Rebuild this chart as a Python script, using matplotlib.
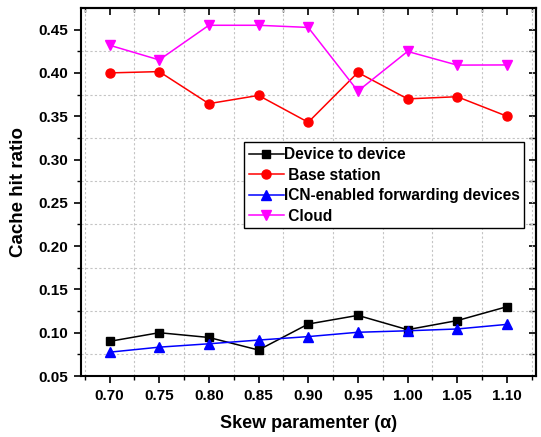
import matplotlib
matplotlib.use("Agg")
import matplotlib.pyplot as plt
from matplotlib.ticker import MultipleLocator, FormatStrFormatter

plt.rcParams['font.family'] = ['Liberation Sans', 'DejaVu Sans']
plt.rcParams['font.weight'] = 'bold'

alpha = [0.70, 0.75, 0.80, 0.85, 0.90, 0.95, 1.00, 1.05, 1.10]
d2d = [0.090, 0.100, 0.0945, 0.080, 0.110, 0.120, 0.1035, 0.114, 0.130]
base = [0.400, 0.4015, 0.3645, 0.374, 0.343, 0.4005, 0.370, 0.3725, 0.350]
icn = [0.0775, 0.0833, 0.0872, 0.0915, 0.0955, 0.1005, 0.1022, 0.1043, 0.1096]
cloud = [0.432, 0.415, 0.455, 0.455, 0.4525, 0.379, 0.4248, 0.409, 0.4092]

W, H = 541, 437
L, R, T, B = 80.7, 536.2, 8.3, 376
fig = plt.figure(figsize=(W/100, H/100), dpi=100)
ax = fig.add_axes([L/W, 1-B/H, (R-L)/W, (B-T)/H])

ax.plot(alpha, d2d, color='black', marker='s', ms=6, lw=1.1, label='Device to device')
ax.plot(alpha, base, color='red', marker='o', ms=6.5, lw=1.1, label=' Base station')
ax.plot(alpha, icn, color='blue', marker='^', ms=6.5, lw=1.1, label='ICN-enabled forwarding devices')
ax.plot(alpha, cloud, color='magenta', marker='v', ms=6.5, lw=1.1, label=' Cloud')

ax.set_xlim(0.671, 1.1295)
ax.set_ylim(0.05, 0.4746)
ax.set_xticks(alpha)
ax.xaxis.set_major_formatter(FormatStrFormatter('%.2f'))
ax.xaxis.set_minor_locator(MultipleLocator(0.025))
ax.yaxis.set_major_locator(MultipleLocator(0.05))
ax.yaxis.set_minor_locator(MultipleLocator(0.025))
ax.yaxis.set_major_formatter(FormatStrFormatter('%.2f'))

ax.grid(True, which='minor', color='#c4c4c4', linestyle=(0, (2, 2)), lw=0.8)
ax.grid(False, which='major')
ax.set_axisbelow(True)
for s in ax.spines.values():
    s.set_linewidth(1.5)

ax.tick_params(which='major', direction='out', length=5, width=1.2, labelsize=11, pad=4)
ax.tick_params(which='minor', direction='out', length=3, width=1.0)
ax.tick_params(which='both', top=False, right=False)

ax2 = ax.secondary_yaxis('right')
ax2.yaxis.set_major_locator(MultipleLocator(0.05))
ax2.yaxis.set_minor_locator(MultipleLocator(0.025))
ax2.tick_params(which='major', direction='in', length=5, width=1.2, labelright=False)
ax2.tick_params(which='minor', direction='in', length=5, width=1.0)
ax2.spines['right'].set_linewidth(1.5)
ax3 = ax.secondary_xaxis('top')
ax3.set_xticks(alpha)
ax3.xaxis.set_minor_locator(MultipleLocator(0.025))
ax3.tick_params(which='major', direction='in', length=5, width=1.2, labeltop=False)
ax3.tick_params(which='minor', direction='in', length=3, width=1.0)
ax3.spines['top'].set_linewidth(1.5)

for lab in ax.get_xticklabels() + ax.get_yticklabels():
    lab.set_fontweight('bold')

ax.set_xlabel('Skew paramenter (α)', fontsize=13, fontweight='bold', labelpad=9)
ax.set_ylabel('Cache hit ratio', fontsize=13.5, fontweight='bold', labelpad=8)

leg = ax.legend(loc='upper left', bbox_to_anchor=((244-L)/(R-L), 1-(142.3-T)/(B-T)),
                frameon=True, fancybox=False, edgecolor='black', framealpha=1,
                prop={'weight': 'bold', 'size': 11.2}, handlelength=2.25,
                handletextpad=0.0, borderpad=0.3, labelspacing=0.36, borderaxespad=0)
leg.get_frame().set_linewidth(1.0)

fig.savefig('out.png', dpi=100)
